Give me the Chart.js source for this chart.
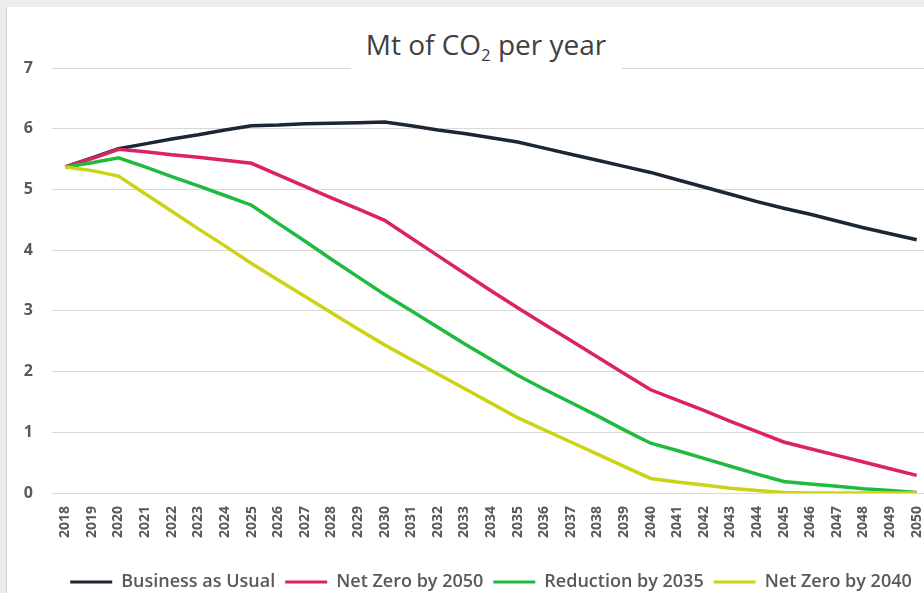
<!DOCTYPE html>
<html>
<head>
<meta charset="utf-8">
<script src="https://cdn.jsdelivr.net/npm/chart.js@4.4.1/dist/chart.umd.min.js"></script>
<style>
  html, body { margin: 0; padding: 0; }
  body {
    width: 924px; height: 593px; overflow: hidden;
    background: #ececec; position: relative;
    font-family: "Open Sans", sans-serif;
  }
  #frame {
    position: absolute; left: 6px; top: 7px; width: 940px; height: 600px;
    background: #fff; border-left: 1px solid #d2d2d2;
  }
  #wrap {
    position: absolute; left: 7px; top: 7px; width: 935px; height: 594px;
  }
  #title {
    position: absolute; left: 486px; top: 21px; transform: translateX(-50%);
    background: #fff; padding: 4px 15px 7px 15px;
    font-size: 28px; font-weight: 500; line-height: 38px; color: #404040; white-space: nowrap;
    z-index: 2;
  }
  #title sub { font-size: 0.6em; line-height: 0; vertical-align: -0.35em; }
</style>
</head>
<body>
<div id="frame"></div>
<div id="wrap"><canvas id="co2Chart"></canvas></div>
<div id="title">Mt of CO<sub>2</sub> per year</div>

<script>
/*================== data =========================*/
const years = ['2018','2019','2020','2021','2022','2023','2024','2025','2026','2027','2028',
  '2029','2030','2031','2032','2033','2034','2035','2036','2037','2038','2039','2040',
  '2041','2042','2043','2044','2045','2046','2047','2048','2049','2050'];

const businessAsUsual = [5.37, 5.52, 5.67, 5.75, 5.83, 5.90, 5.98, 6.05, 6.06, 6.08, 6.09,
  6.10, 6.11, 6.05, 5.98, 5.92, 5.85, 5.78, 5.68, 5.58, 5.48, 5.38, 5.28,
  5.16, 5.04, 4.92, 4.80, 4.69, 4.59, 4.48, 4.37, 4.27, 4.17];

const netZero2050 = [5.37, 5.51, 5.66, 5.62, 5.57, 5.53, 5.48, 5.43, 5.24, 5.05, 4.86,
  4.68, 4.49, 4.20, 3.91, 3.62, 3.33, 3.05, 2.78, 2.51, 2.24, 1.97, 1.70,
  1.53, 1.36, 1.18, 1.01, 0.84, 0.73, 0.62, 0.51, 0.40, 0.29];

const reduction2035 = [5.37, 5.44, 5.52, 5.37, 5.21, 5.06, 4.90, 4.74, 4.44, 4.15, 3.85,
  3.56, 3.27, 3.00, 2.73, 2.46, 2.20, 1.94, 1.71, 1.49, 1.27, 1.04, 0.82,
  0.70, 0.57, 0.44, 0.31, 0.19, 0.15, 0.11, 0.07, 0.04, 0.01];

const netZero2040 = [5.37, 5.31, 5.22, 4.93, 4.64, 4.35, 4.07, 3.78, 3.51, 3.24, 2.97,
  2.70, 2.44, 2.20, 1.96, 1.72, 1.48, 1.24, 1.04, 0.84, 0.64, 0.44, 0.24,
  0.18, 0.13, 0.08, 0.04, 0.01, 0, 0, 0, 0, 0];

const yTicks = [0, 1, 2, 3, 4, 5, 6, 7];

/*================== chart =========================*/
function line(label, data, color, order) {
    return {
        label: label,
        data: data,
        borderColor: color,
        backgroundColor: color,
        borderWidth: 3.5,
        pointRadius: 0,
        pointHoverRadius: 0,
        tension: 0,
        fill: false,
        order: order
    };
}

const ctx = document.getElementById('co2Chart').getContext('2d');

new Chart(ctx, {
    type: 'line',
    data: {
        labels: years,
        datasets: [
            line('Business as Usual', businessAsUsual, '#1c2733', 4),
            line('Net Zero by 2050', netZero2050, '#dc2360', 3),
            line('Reduction by 2035', reduction2035, '#1fbb3e', 2),
            line('Net Zero by 2040', netZero2040, '#cbd314', 1)
        ]
    },
    options: {
        responsive: true,
        maintainAspectRatio: false,
        animation: false,
        layout: { padding: { left: 0, right: 12, top: 61, bottom: 0 } },
        scales: {
            x: {
                offset: true,
                grid: { display: false, drawTicks: false },
                border: { display: false },
                ticks: {
                    autoSkip: false,
                    minRotation: 90,
                    maxRotation: 90,
                    padding: 13,
                    color: '#595959',
                    font: { family: 'Open Sans', size: 14, weight: 'bold' }
                },
                afterFit: (scale) => {
                    scale.height = 70;
                    scale.paddingLeft = 0;
                    scale.paddingRight = 0;
                }
            },
            y: {
                min: yTicks[0],
                max: yTicks[yTicks.length - 1],
                grid: { color: '#d9d9d9', lineWidth: 1, drawTicks: false },
                border: { display: false },
                ticks: {
                    stepSize: 1,
                    padding: 19,
                    color: '#595959',
                    font: { family: 'Open Sans', size: 16, weight: 'bold' }
                },
                afterFit: (scale) => { scale.width = 45; }
            }
        },
        plugins: {
            title: { display: false },
            tooltip: { enabled: false },
            legend: {
                position: 'bottom',
                fullSize: false,
                labels: {
                    boxWidth: 42,
                    boxHeight: 3,
                    padding: 10,
                    color: '#595959',
                    font: { family: 'Open Sans', size: 18, weight: '600' },
                    sort: (a, b) => a.datasetIndex - b.datasetIndex,
                    generateLabels: (chart) =>
                        Chart.defaults.plugins.legend.labels.generateLabels(chart)
                            .map(item => Object.assign(item, { lineWidth: 0 }))
                }
            }
        }
    }
});
</script>
</body>
</html>
